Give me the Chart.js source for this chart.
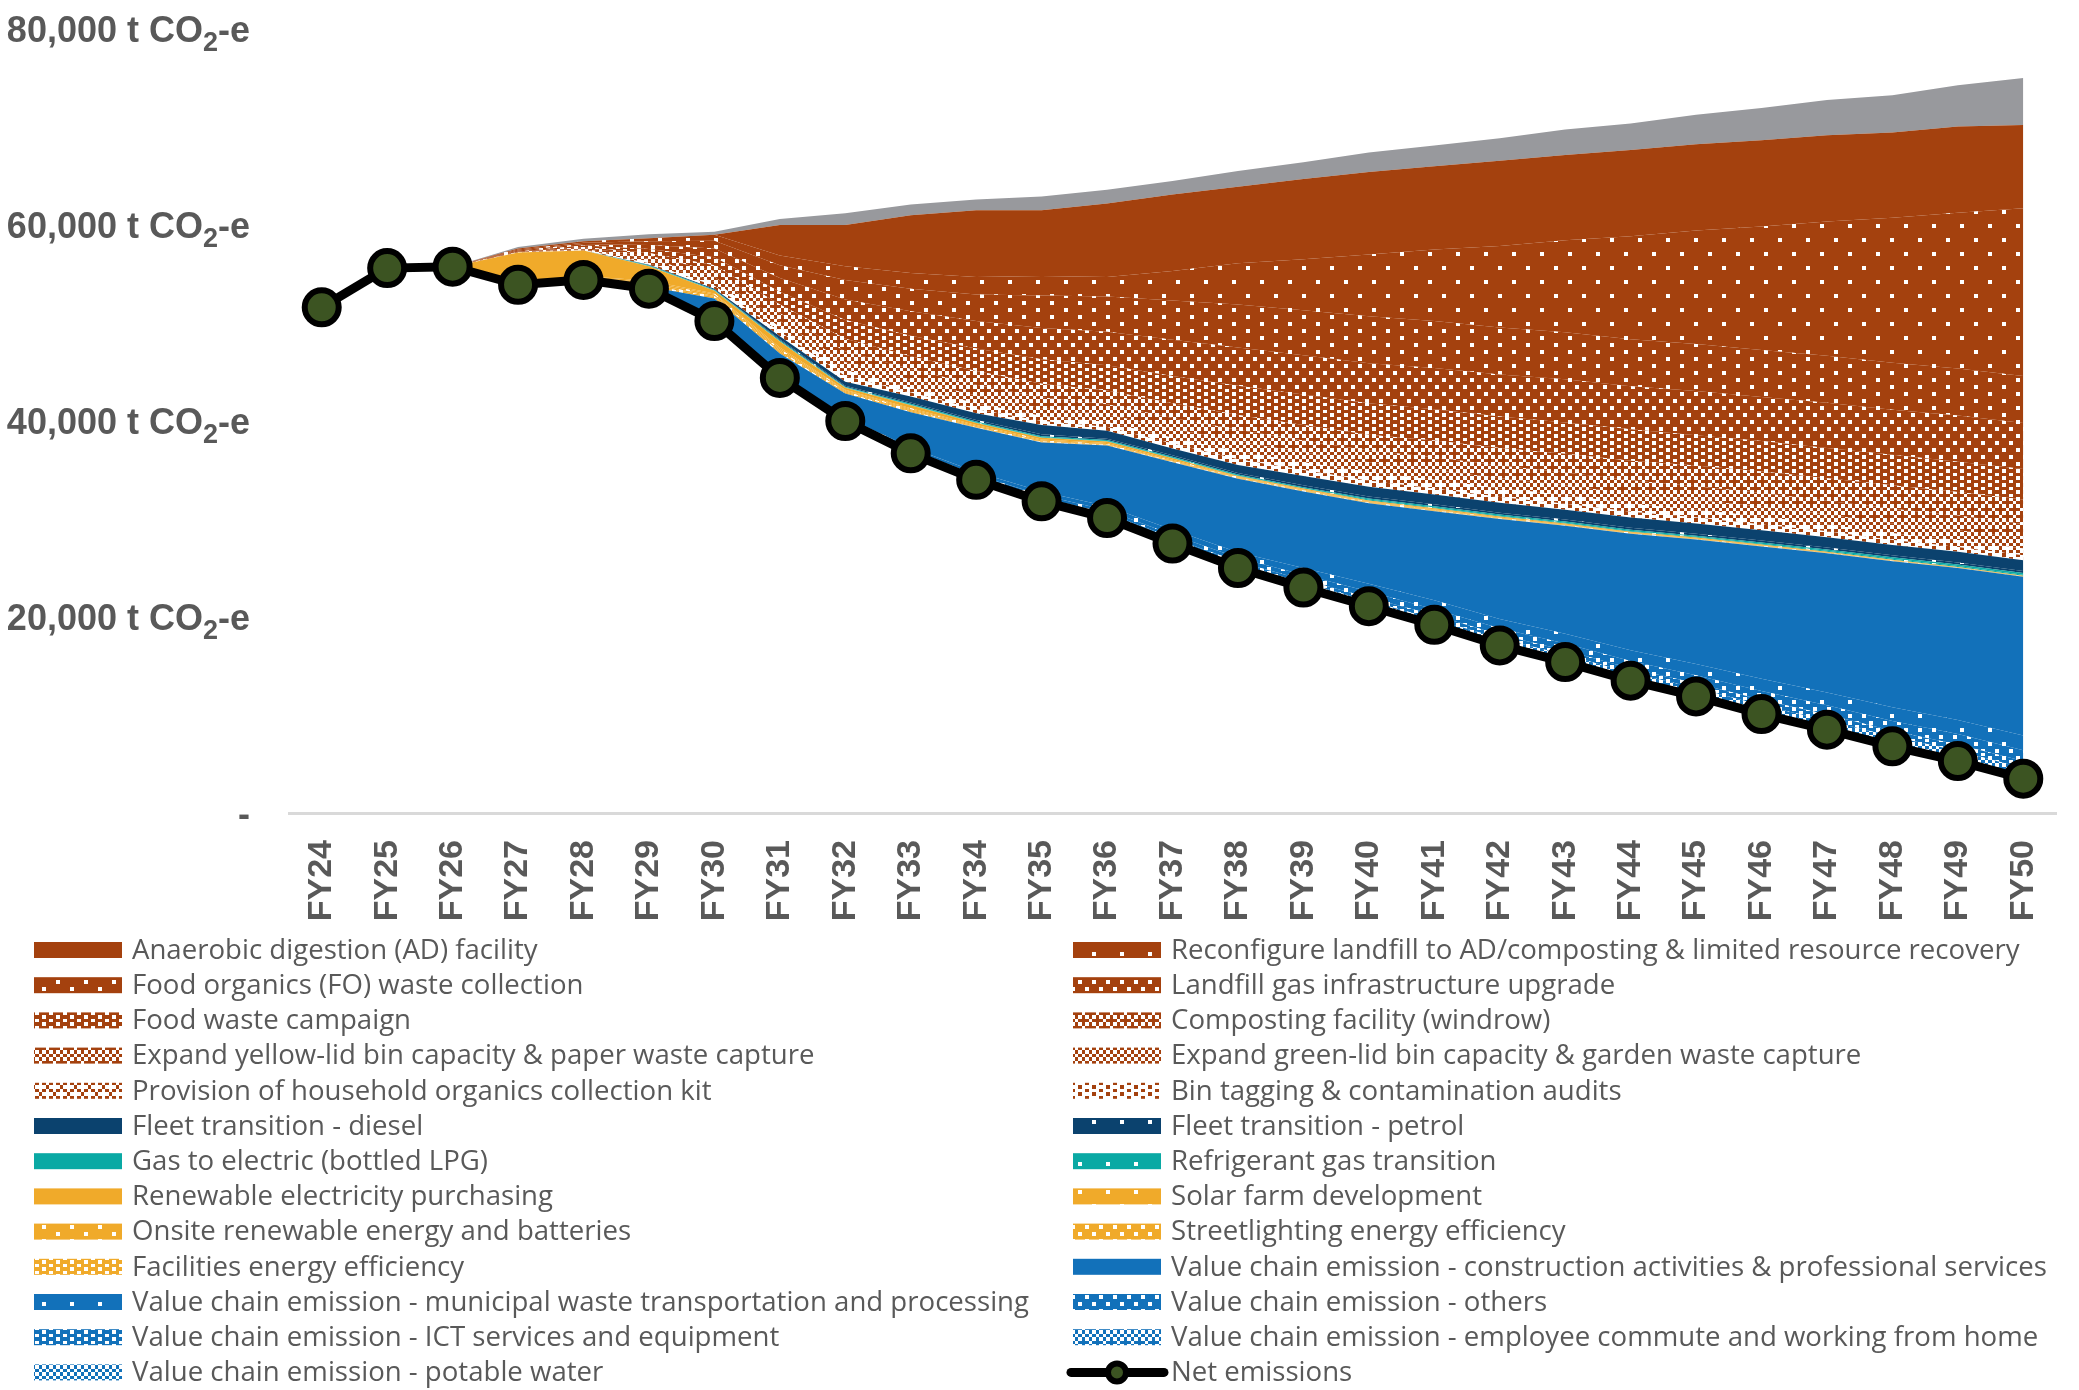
<!DOCTYPE html>
<html>
<head>
<meta charset="utf-8">
<title>Emission reduction pathway</title>
<script src="https://cdn.jsdelivr.net/npm/chart.js@4.4.1/dist/chart.umd.min.js"></script>
<style>
  html, body { margin: 0; padding: 0; background: #fff; }
  canvas { display: block; }
</style>
</head>
<body>
<canvas id="pathway" width="2079" height="1390"></canvas>
<script>
// ---- data (t CO2-e) ----
const years = ['FY24','FY25','FY26','FY27','FY28','FY29','FY30','FY31','FY32','FY33','FY34','FY35','FY36','FY37',
               'FY38','FY39','FY40','FY41','FY42','FY43','FY44','FY45','FY46','FY47','FY48','FY49','FY50'];

const yTicks = [0, 20000, 40000, 60000, 80000];

const netEmissions = [51600,55600,55750,53900,54400,53500,50200,44400,40000,36700,34000,31800,30100,27500,25000,23000,21100,19200,17100,15400,13500,11900,10100,8500,6800,5300,3500];

// value chain
const potableWater   = [0,0,0,0,0,0,0,0,50,50,100,100,100,150,150,200,200,200,250,250,300,300,300,350,350,350,400];
const employeeCommute= [0,0,0,0,0,0,0,50,50,100,100,150,200,200,250,300,350,400,450,500,500,550,600,600,650,700,700];
const ictServices    = [0,0,0,0,0,0,0,50,50,100,100,150,200,200,250,300,350,400,400,450,450,500,550,600,600,650,700];
const vcOthers       = [0,0,0,0,0,0,50,100,100,150,200,250,300,350,400,500,600,600,650,700,750,800,900,950,1000,1050,1100];
const municipalWaste = [0,0,0,0,0,0,50,100,150,200,300,350,400,500,550,700,800,900,950,1000,1100,1150,1250,1300,1400,1450,1500];
const construction   = [0,0,0,0,0,200,2200,2200,2400,3600,4500,5000,6200,6900,7500,7800,8200,9100,10200,11000,11900,12700,13500,14200,14900,15500,16200];

// energy
const facilitiesEff  = [0,0,0,50,100,150,150,150,100,100,50,50,50,50,50,50,50,50,20,20,20,20,20,10,10,10,10];
const streetlighting = [0,0,0,50,100,150,100,150,100,100,50,50,50,50,50,50,50,50,30,30,20,20,20,20,20,10,10];
const onsiteRenew    = [0,0,0,100,100,150,150,150,100,100,100,100,50,50,50,50,50,50,50,50,40,40,40,30,30,20,20];
const solarFarm      = [0,0,0,100,100,150,100,150,100,100,100,100,100,100,50,50,50,50,50,50,40,40,40,30,30,20,20];
const renewPurchase  = [0,0,0,3000,2600,1500,300,600,200,300,200,200,150,150,100,100,100,100,100,100,80,80,80,60,60,40,40];

// gas and fleet
const refrigerant    = [0,0,0,0,0,50,50,50,50,50,50,50,50,50,50,50,80,80,80,80,80,80,80,100,100,100,120];
const gasToElectric  = [0,0,0,0,0,50,50,100,50,100,100,100,100,100,100,100,120,120,120,120,120,120,120,150,150,150,180];
const fleetPetrol    = [0,0,0,0,0,0,0,100,100,150,150,200,150,150,150,200,200,200,200,200,200,200,200,200,200,200,200];
const fleetDiesel    = [0,0,0,0,0,50,100,300,400,600,700,950,800,700,800,950,1000,1000,1000,1000,1050,1050,1050,1050,1050,1100,1100];

// waste
const binTagging     = [0,0,0,0,50,150,300,450,600,400,400,400,400,500,600,600,600,600,600,600,600,600,600,600,500,500,500];
const organicsKit    = [0,0,0,0,50,200,400,500,600,500,600,500,500,600,800,800,900,900,900,900,800,800,800,700,700,700,700];
const greenLid       = [0,0,0,0,50,250,500,600,800,800,800,800,800,900,1000,1000,1000,1000,1000,1000,1000,1000,1000,1000,1000,1000,1000];
const yellowLid      = [0,0,0,0,100,300,600,800,1100,1100,1100,1100,1000,1100,1200,1200,1200,1300,1300,1300,1400,1400,1400,1400,1500,1500,1500];
const composting     = [0,0,0,50,100,300,600,900,1300,1300,1400,1400,1400,1500,1500,1600,1600,1700,1800,1900,2000,2100,2200,2300,2400,2400,2500];
const foodWasteCamp  = [0,0,0,50,150,400,800,1300,1900,2100,2300,2500,2600,2800,3000,3100,3200,3200,3200,3200,3200,3100,3100,3100,3100,3100,3100];
const landfillGas    = [0,0,0,100,150,400,900,1400,2100,2500,2800,3200,3400,3700,3900,4000,4100,4200,4300,4400,4400,4500,4500,4600,4600,4700,4700];
const foCollection   = [0,0,0,100,150,400,800,1300,2000,2300,2700,3300,3600,4000,4400,4600,4800,4800,4800,4800,4800,4800,4800,4800,4800,4800,4800];
const reconfigure    = [0,0,0,100,150,300,600,1000,1400,1600,1800,2000,2000,3000,4200,5200,6300,7300,8300,9400,10500,11600,12600,13700,14800,15900,17100];
const adFacility     = [0,0,0,0,0,0,0,3100,4200,5900,6800,6700,7500,7800,7800,8200,8400,8500,8700,8700,8800,8800,8800,8800,8700,8800,8500];
const unlabelled     = [0,0,0,150,250,400,300,600,1200,1100,1100,1400,1400,1400,1600,1700,2000,2100,2300,2600,2700,3000,3300,3600,3800,4200,4800];

// ---- patterns (8x8 bitmaps, 1 = white) ----
const PAT = {
  solid: null,
  p5:  ['10000000','00000000','00000000','00000000','00001000','00000000','00000000','00000000'],
  p10: ['10000000','00000000','00001000','00000000','10000000','00000000','00001000','00000000'],
  p20: ['10001000','00000000','00100010','00000000','10001000','00000000','00100010','00000000'],
  p25: ['10001000','00100010','10001000','00100010','10001000','00100010','10001000','00100010'],
  p30: ['10101010','01000100','10101010','00010001','10101010','01000100','10101010','00010001'],
  p40: ['10101010','01010101','10101010','01000100','10101010','01010101','10101010','00010001'],
  p50: ['10101010','01010101','10101010','01010101','10101010','01010101','10101010','01010101'],
  p60: ['11101110','01010101','10111011','01010101','11101110','01010101','10111011','01010101'],
  p75: ['01110111','11011101','01110111','11011101','01110111','11011101','01110111','11011101']
};

function makeFill(color, key) {
  const rows = PAT[key];
  if (!rows) return color;
  const cell = 3.5, size = 28;
  const c = document.createElement('canvas');
  c.width = size; c.height = size;
  const g = c.getContext('2d');
  g.fillStyle = color;
  g.fillRect(0, 0, size, size);
  g.fillStyle = '#ffffff';
  rows.forEach((r, yi) => {
    [...r].forEach((b, xi) => {
      if (b !== '1') return;
      const x0 = Math.round(xi * cell), y0 = Math.round(yi * cell);
      g.fillRect(x0, y0, Math.round((xi + 1) * cell) - x0, Math.round((yi + 1) * cell) - y0);
    });
  });
  return g.createPattern(c, 'repeat');
}

const BROWN = '#A4410E', NAVY = '#0B426E', TEAL = '#0AA9A4', ORANGE = '#F0AA2A', BLUE = '#1271BA', GREY = '#98999D';

// stacked bottom -> top (after the net emissions base)
const series = [
  ['Value chain emission - potable water', potableWater, BLUE, 'p50'],
  ['Value chain emission - employee commute and working from home', employeeCommute, BLUE, 'p40'],
  ['Value chain emission - ICT services and equipment', ictServices, BLUE, 'p25'],
  ['Value chain emission - others', vcOthers, BLUE, 'p20'],
  ['Value chain emission - municipal waste transportation and processing', municipalWaste, BLUE, 'p5'],
  ['Value chain emission - construction activities & professional services', construction, BLUE, 'solid'],
  ['Facilities energy efficiency', facilitiesEff, ORANGE, 'p25'],
  ['Streetlighting energy efficiency', streetlighting, ORANGE, 'p20'],
  ['Onsite renewable energy and batteries', onsiteRenew, ORANGE, 'p10'],
  ['Solar farm development', solarFarm, ORANGE, 'p5'],
  ['Renewable electricity purchasing', renewPurchase, ORANGE, 'solid'],
  ['Refrigerant gas transition', refrigerant, TEAL, 'p5'],
  ['Gas to electric (bottled LPG)', gasToElectric, TEAL, 'solid'],
  ['Fleet transition - petrol', fleetPetrol, NAVY, 'p5'],
  ['Fleet transition - diesel', fleetDiesel, NAVY, 'solid'],
  ['Bin tagging & contamination audits', binTagging, BROWN, 'p75'],
  ['Provision of household organics collection kit', organicsKit, BROWN, 'p60'],
  ['Expand green-lid bin capacity & garden waste capture', greenLid, BROWN, 'p50'],
  ['Expand yellow-lid bin capacity & paper waste capture', yellowLid, BROWN, 'p40'],
  ['Composting facility (windrow)', composting, BROWN, 'p30'],
  ['Food waste campaign', foodWasteCamp, BROWN, 'p25'],
  ['Landfill gas infrastructure upgrade', landfillGas, BROWN, 'p20'],
  ['Food organics (FO) waste collection', foCollection, BROWN, 'p10'],
  ['Reconfigure landfill to AD/composting & limited resource recovery', reconfigure, BROWN, 'p5'],
  ['Anaerobic digestion (AD) facility', adFacility, BROWN, 'solid'],
  ['', unlabelled, GREY, 'solid']
];

const legendOrder = [
  'Anaerobic digestion (AD) facility', 'Reconfigure landfill to AD/composting & limited resource recovery',
  'Food organics (FO) waste collection', 'Landfill gas infrastructure upgrade',
  'Food waste campaign', 'Composting facility (windrow)',
  'Expand yellow-lid bin capacity & paper waste capture', 'Expand green-lid bin capacity & garden waste capture',
  'Provision of household organics collection kit', 'Bin tagging & contamination audits',
  'Fleet transition - diesel', 'Fleet transition - petrol',
  'Gas to electric (bottled LPG)', 'Refrigerant gas transition',
  'Renewable electricity purchasing', 'Solar farm development',
  'Onsite renewable energy and batteries', 'Streetlighting energy efficiency',
  'Facilities energy efficiency', 'Value chain emission - construction activities & professional services',
  'Value chain emission - municipal waste transportation and processing', 'Value chain emission - others',
  'Value chain emission - ICT services and equipment', 'Value chain emission - employee commute and working from home',
  'Value chain emission - potable water', 'Net emissions'
];

const datasets = [{
  label: 'Net emissions',
  data: netEmissions,
  borderColor: '#000000',
  borderWidth: 9,
  pointRadius: 17,
  pointBorderWidth: 6,
  pointBackgroundColor: '#3C5422',
  pointBorderColor: '#000000',
  fill: false,
  tension: 0
}];
series.forEach(([label, data, color, pat]) => {
  datasets.push({
    label, data,
    backgroundColor: makeFill(color, pat),
    borderColor: 'rgba(0,0,0,0)',
    borderWidth: 0,
    pointRadius: 0,
    fill: '-1',
    tension: 0
  });
});

const tickFont = "'Liberation Sans', Arial, sans-serif";

// y labels need a real subscript 2, so they are drawn at the scale's tick pixels
const yAxisLabels = {
  id: 'yAxisLabels',
  afterDraw(chart) {
    const s = chart.scales.y, ctx = chart.ctx;
    const big = `bold 36px ${tickFont}`, small = `bold 27px ${tickFont}`;
    const right = s.right - 39;
    ctx.save();
    ctx.fillStyle = '#595959';
    ctx.textBaseline = 'alphabetic';
    ctx.textAlign = 'left';
    s.ticks.forEach(t => {
      const base = s.getPixelForValue(t.value) + 13;
      if (t.value === 0) {
        ctx.font = big;
        ctx.fillText('-', right - ctx.measureText('-').width, base);
        return;
      }
      const parts = [[t.value.toLocaleString('en-US') + ' t CO', big, 0], ['2', small, 9], ['-e', big, 0]];
      let w = 0;
      parts.forEach(p => { ctx.font = p[1]; w += ctx.measureText(p[0]).width; });
      let x = right - w;
      parts.forEach(p => {
        ctx.font = p[1];
        ctx.fillText(p[0], x, base + p[2]);
        x += ctx.measureText(p[0]).width;
      });
    });
    ctx.restore();
  }
};

// two-column legend under the axis
const twoColumnLegend = {
  id: 'twoColumnLegend',
  afterDraw(chart) {
    const ctx = chart.ctx;
    ctx.save();
    ctx.font = "27.6px 'Open Sans', sans-serif";
    ctx.textBaseline = 'middle';
    legendOrder.forEach((label, i) => {
      const col = i % 2, row = Math.floor(i / 2);
      const bx = col ? 1073 : 34;
      const cy = 950 + row * 35.2;
      const ds = chart.data.datasets.find(d => d.label === label);
      if (label === 'Net emissions') {
        ctx.strokeStyle = '#000';
        ctx.lineWidth = 9;
        ctx.lineCap = 'round';
        ctx.beginPath(); ctx.moveTo(bx - 2, cy); ctx.lineTo(bx + 91, cy); ctx.stroke();
        ctx.beginPath(); ctx.arc(bx + 44, cy, 9, 0, Math.PI * 2);
        ctx.fillStyle = ds.pointBackgroundColor; ctx.fill();
        ctx.lineWidth = 6; ctx.stroke();
      } else {
        ctx.fillStyle = ds.backgroundColor;
        ctx.fillRect(bx, cy - 8, 88, 16);
      }
      ctx.fillStyle = '#595959';
      ctx.fillText(label, bx + 98, cy + 1);
    });
    ctx.restore();
  }
};

new Chart(document.getElementById('pathway'), {
  type: 'line',
  data: { labels: years, datasets },
  options: {
    responsive: false,
    devicePixelRatio: 1,
    animation: false,
    events: [],
    layout: { padding: { top: 29, right: 0, bottom: 457, left: 0 } },
    plugins: {
      legend: { display: false },
      tooltip: { enabled: false },
      filler: { propagate: false }
    },
    scales: {
      x: {
        offset: true,
        grid: { display: false, drawTicks: false },
        border: { display: true, color: '#D9D9D9', width: 3 },
        ticks: {
          autoSkip: false, minRotation: 90, maxRotation: 90, padding: 27,
          color: '#595959', font: { family: tickFont, size: 34, weight: 'bold' }
        },
        afterFit: s => { s.height = 120; s.paddingLeft = 0; s.paddingRight = 0; }
      },
      y: {
        stacked: true,
        min: 0, max: 80000,
        afterBuildTicks: s => { s.ticks = yTicks.map(v => ({ value: v })); },
        grid: { display: false, drawTicks: false },
        border: { display: false },
        ticks: { display: false },
        afterFit: s => { s.width = 289; s.paddingTop = 0; s.paddingBottom = 0; }
      }
    }
  },
  plugins: [yAxisLabels, twoColumnLegend]
});
</script>
</body>
</html>
